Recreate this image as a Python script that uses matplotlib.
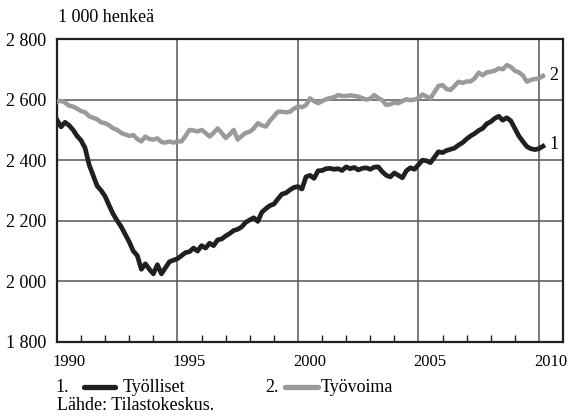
import numpy as np
import matplotlib
matplotlib.use('Agg')
import matplotlib.pyplot as plt
from matplotlib.lines import Line2D
from matplotlib.transforms import ScaledTranslation

plt.rcParams['font.family'] = ['Liberation Serif', 'DejaVu Serif']
plt.rcParams['font.size'] = 13

# Bimonthly readings, Jan 1990 .. Mar 2010 (1 000 persons)
tyolliset = [
    2533, 2510, 2525, 2515, 2500, 2480,   # 1990
    2465, 2440, 2385, 2350, 2315, 2300,   # 1991
    2280, 2250, 2222, 2200, 2180, 2155,   # 1992
    2130, 2100, 2085, 2040, 2058, 2040,   # 1993
    2025, 2055, 2025, 2045, 2065, 2070,   # 1994
    2075, 2085, 2095, 2098, 2110, 2100,   # 1995
    2118, 2110, 2126, 2118, 2137, 2140,   # 1996
    2150, 2158, 2168, 2172, 2180, 2195,   # 1997
    2203, 2210, 2198, 2228, 2240, 2250,   # 1998
    2255, 2272, 2288, 2292, 2302, 2310,   # 1999
    2313, 2305, 2345, 2350, 2340, 2365,   # 2000
    2366, 2372, 2373, 2370, 2372, 2366,   # 2001
    2378, 2372, 2376, 2368, 2373, 2375,   # 2002
    2370, 2377, 2378, 2362, 2350, 2345,   # 2003
    2358, 2350, 2342, 2365, 2375, 2370,   # 2004
    2385, 2400, 2398, 2392, 2410, 2428,   # 2005
    2425, 2432, 2436, 2440, 2450, 2458,   # 2006
    2470, 2480, 2488, 2498, 2505, 2520,   # 2007
    2527, 2538, 2545, 2532, 2540, 2530,   # 2008
    2505, 2480, 2462, 2445, 2438, 2435,   # 2009
    2438, 2446,                           # 2010
]
tyovoima = [
    2593, 2596, 2590, 2580, 2577, 2570,
    2562, 2558, 2545, 2540, 2535, 2525,
    2522, 2515, 2505, 2500, 2490, 2485,
    2480, 2483, 2470, 2462, 2478, 2470,
    2468, 2472, 2460, 2458, 2462, 2458,
    2462, 2462, 2480, 2500, 2498, 2495,
    2500, 2490, 2478, 2490, 2505, 2490,
    2473, 2485, 2500, 2468, 2480, 2490,
    2494, 2505, 2522, 2515, 2511, 2530,
    2545, 2560, 2560, 2558, 2560, 2570,
    2577, 2575, 2582, 2604, 2595, 2588,
    2595, 2601, 2605, 2608, 2615, 2612,
    2612, 2614, 2612, 2610, 2605, 2600,
    2603, 2615, 2605, 2598, 2582, 2585,
    2590, 2588, 2595, 2601, 2598, 2600,
    2605, 2617, 2610, 2604, 2625, 2645,
    2648, 2635, 2632, 2645, 2659, 2655,
    2660, 2660, 2670, 2689, 2680, 2690,
    2692, 2695, 2703, 2700, 2714, 2708,
    2695, 2690, 2680, 2659, 2665, 2668,
    2670, 2678,
]
years = 1990 + np.arange(len(tyolliset)) / 6.0

year_labels = [1990, 1995, 2000, 2005, 2010]
y_ticks = [1800, 2000, 2200, 2400, 2600, 2800]

black = '#231f20'
gray = '#9a9a9a'

fig = plt.figure(figsize=(5.69, 4.18), dpi=100)
ax = fig.add_axes([57 / 569, 76 / 418, 506 / 569, 303 / 418])

ax.plot(years, tyovoima, color=gray, lw=3.2, solid_joinstyle='round', zorder=3)
ax.plot(years, tyolliset, color=black, lw=3.4, solid_joinstyle='round', zorder=4)

ax.text(years[-1] + 0.25, tyovoima[-1], '2', va='center', ha='left')
ax.text(years[-1] + 0.25, tyolliset[-1] + 5, '1', va='center', ha='left')

ax.set_xlim(1990, 2011)
ax.set_ylim(1800, 2800)

ax.set_xticks(year_labels)
ax.set_xticklabels([str(y) for y in year_labels], fontsize=12)
ax.set_xticks(range(1991, 2010), minor=True)
ax.tick_params(axis='x', which='major', length=0, pad=9)
ax.tick_params(axis='x', which='minor', direction='in', length=5, width=1.0, color=black)
offset = ScaledTranslation(-5 / 100, 0, fig.dpi_scale_trans)
for lab in ax.get_xticklabels():
    lab.set_horizontalalignment('left')
    lab.set_transform(lab.get_transform() + offset)

ax.set_yticks(y_ticks)
ax.set_yticklabels([f'{v:,}'.replace(',', ' ') for v in y_ticks])
ax.tick_params(axis='y', length=0, pad=8)

ax.grid(True, which='major', color='#555555', lw=1.1)
ax.set_axisbelow(True)
for s in ax.spines.values():
    s.set_color(black)
    s.set_linewidth(1.6)

fig.text(58 / 569, 1 - 18 / 418, '1 000 henkeä', va='center', ha='left')

# legend row
ly = 1 - 387 / 418
fig.text(55 / 569, ly, '1.', va='center', ha='left')
fig.add_artist(Line2D([84 / 569, 115 / 569], [ly, ly], transform=fig.transFigure,
                      color=black, lw=3.8, solid_capstyle='round'))
fig.text(123 / 569, ly, 'Työlliset', va='center', ha='left')
fig.text(265 / 569, ly, '2.', va='center', ha='left')
fig.add_artist(Line2D([285 / 569, 318 / 569], [ly, ly], transform=fig.transFigure,
                      color=gray, lw=3.8, solid_capstyle='round'))
fig.text(321 / 569, ly, 'Työvoima', va='center', ha='left')

fig.text(57 / 569, 1 - 406 / 418, 'Lähde: Tilastokeskus.', va='center', ha='left')

fig.savefig('out.png', dpi=100)
